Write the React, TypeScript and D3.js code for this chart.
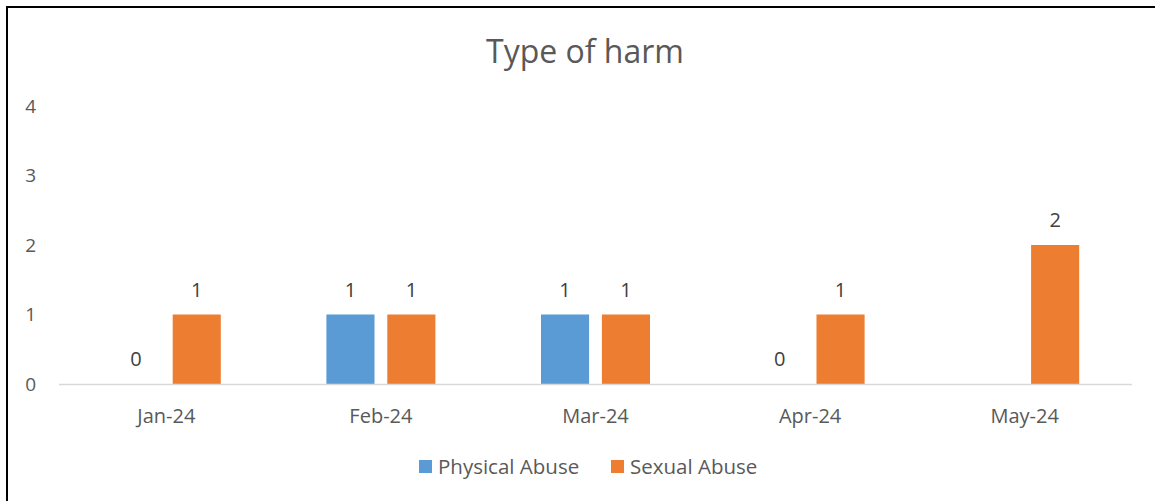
import React, { useRef, useEffect } from "react";
import * as d3 from "d3";

const categories = ["Jan-24", "Feb-24", "Mar-24", "Apr-24", "May-24"];
const seriesNames = ["Physical Abuse", "Sexual Abuse"];
const physical: (number | null)[] = [0, 1, 1, 0, null];
const sexual: (number | null)[] = [1, 1, 1, 1, 2];
const yTicks = [0, 1, 2, 3, 4];
const colors = ["#5B9BD5", "#ED7D31"];

const App = () => {
  const svgRef = useRef<SVGSVGElement>(null);

  useEffect(() => {
    const width = 1155;
    const height = 501;
    const margin = { top: 106, right: 23, bottom: 117, left: 59 };
    const svg = d3.select(svgRef.current);
    svg.selectAll("*").remove();
    const font = "'Open Sans', 'Noto Sans', sans-serif";
    const textColor = "#595959";

    // outer border (only top and left visible in the crop)
    svg.append("rect").attr("width", width).attr("height", height).attr("fill", "#fff");
    svg
      .append("path")
      .attr("d", `M${width + 5},7 H7 V${height + 5}`)
      .attr("fill", "none")
      .attr("stroke", "#000")
      .attr("stroke-width", 2);

    svg
      .append("text")
      .attr("x", 585)
      .attr("y", 63)
      .attr("text-anchor", "middle")
      .attr("font-family", font)
      .attr("font-size", 32)
      .attr("fill", textColor)
      .text("Type of harm");

    const x0 = d3
      .scaleBand()
      .domain(categories)
      .range([margin.left, width - margin.right]);
    const x1 = d3
      .scaleBand()
      .domain(seriesNames)
      .range([-54.5, 54.5])
      .paddingInner(0.21);
    const y = d3
      .scaleLinear()
      .domain([0, 4])
      .range([height - margin.bottom, margin.top]);

    // y tick labels
    svg
      .append("g")
      .selectAll("text")
      .data(yTicks)
      .join("text")
      .attr("x", 36)
      .attr("y", d => y(d))
      .attr("dy", "0.35em")
      .attr("text-anchor", "end")
      .attr("font-family", font)
      .attr("font-size", 19)
      .attr("fill", textColor)
      .text(d => d);

    const data = [physical, sexual];
    const g = svg.append("g");
    seriesNames.forEach((name, si) => {
      const vals = data[si];
      categories.forEach((cat, ci) => {
        const v = vals[ci];
        if (v === null) return;
        const cx = x0(cat)! + x0.bandwidth() / 2 + x1(name)!;
        if (v > 0) {
          g.append("rect")
            .attr("x", cx)
            .attr("y", y(v))
            .attr("width", x1.bandwidth())
            .attr("height", y(0) - y(v))
            .attr("fill", colors[si]);
        }
        g.append("text")
          .attr("x", cx + x1.bandwidth() / 2)
          .attr("y", y(v) - 18)
          .attr("text-anchor", "middle")
          .attr("font-family", font)
          .attr("font-size", 20)
          .attr("fill", "#404040")
          .text(v);
      });
    });

    // category axis
    svg
      .append("line")
      .attr("x1", margin.left)
      .attr("x2", width - margin.right)
      .attr("y1", y(0) + 0.5)
      .attr("y2", y(0) + 0.5)
      .attr("stroke", "#d9d9d9")
      .attr("stroke-width", 1.5);
    svg
      .append("g")
      .selectAll("text")
      .data(categories)
      .join("text")
      .attr("x", d => x0(d)! + x0.bandwidth() / 2)
      .attr("y", 423)
      .attr("text-anchor", "middle")
      .attr("font-family", font)
      .attr("font-size", 20)
      .attr("fill", textColor)
      .text(d => d);

    // legend
    const legendX = [419, 611];
    seriesNames.forEach((name, i) => {
      svg
        .append("rect")
        .attr("x", legendX[i])
        .attr("y", 460)
        .attr("width", 13)
        .attr("height", 13)
        .attr("fill", colors[i]);
      svg
        .append("text")
        .attr("x", legendX[i] + 19)
        .attr("y", 474)
        .attr("font-family", font)
        .attr("font-size", 20.5)
        .attr("fill", textColor)
        .text(name);
    });
  }, []);

  return <svg ref={svgRef} width={1155} height={501} style={{ display: "block", position: "absolute", left: 0, top: 0 }} />;
};

export default App;
